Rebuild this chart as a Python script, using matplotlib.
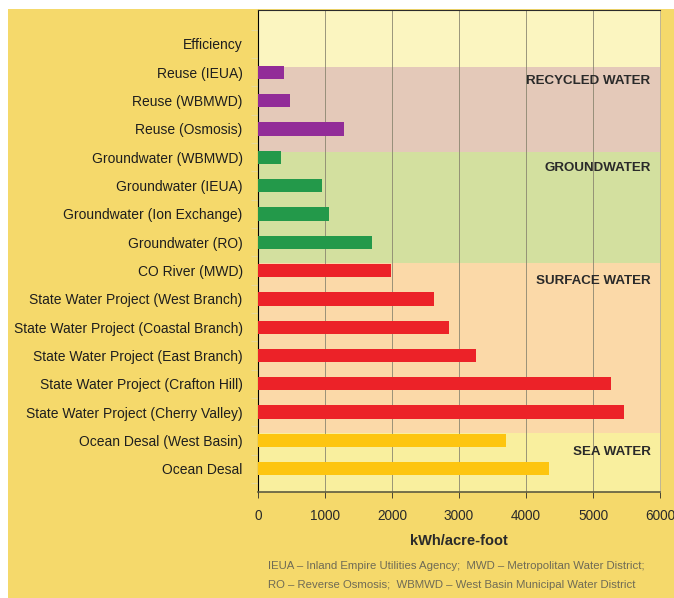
from matplotlib import pyplot as plt
from matplotlib.patches import Rectangle
import numpy as np

plt.rcParams['font.family'] = ['Liberation Sans', 'DejaVu Sans']

# data
labels = ["Efficiency", "Reuse (IEUA)", "Reuse (WBMWD)", "Reuse (Osmosis)",
          "Groundwater (WBMWD)", "Groundwater (IEUA)", "Groundwater (Ion Exchange)",
          "Groundwater (RO)", "CO River (MWD)", "State Water Project (West Branch)",
          "State Water Project (Coastal Branch)", "State Water Project (East Branch)",
          "State Water Project (Crafton Hill)", "State Water Project (Cherry Valley)",
          "Ocean Desal (West Basin)", "Ocean Desal"]
values = [0, 390, 480, 1280, 340, 955, 1060, 1700, 1985, 2630, 2850, 3250,
          5270, 5460, 3700, 4345]
groups = ["eff", "rec", "rec", "rec", "gw", "gw", "gw", "gw", "sw", "sw", "sw",
          "sw", "sw", "sw", "sea", "sea"]
band_names = ["RECYCLED WATER", "GROUNDWATER", "SURFACE WATER", "SEA WATER"]
x_ticks = [0, 1000, 2000, 3000, 4000, 5000, 6000]

bar_colors = {"eff": "#fbf5c0", "rec": "#922c98", "gw": "#23994a",
              "sw": "#ec2228", "sea": "#fdc510"}
band_colors = ["#fbf5c0", "#e4c9b9", "#d3e09f", "#fbd9a8", "#f9ef9e"]
band_edges = [-1.2, 0.8, 3.83, 7.75, 13.72, 15.82]
band_text_y = [1.3, 4.38, 8.37, 14.4]

fig = plt.figure(figsize=(6.74, 5.98), dpi=100, facecolor="white")
fig.patches.append(Rectangle((8 / 674, 0), 1, 1 - 9 / 598, transform=fig.transFigure,
                             facecolor="#f5d96b", edgecolor="none", zorder=-10))
ax = fig.add_axes([258 / 674, 1 - 492 / 598, 402 / 674, 482 / 598])

# background bands
for i in range(len(band_colors)):
    ax.axhspan(band_edges[i], band_edges[i + 1], color=band_colors[i], lw=0, zorder=0)

y = np.arange(len(labels))
ax.barh(y, values, height=0.47, color=[bar_colors[g] for g in groups], zorder=3)

for name, ty in zip(band_names, band_text_y):
    ax.text(5860, ty, name, ha="right", va="center", fontsize=9.6, fontweight="bold",
            color="#2a2a2a", zorder=4)

ax.set_xlim(0, 6000)
ax.set_ylim(15.82, -1.2)
ax.set_yticks(y)
ax.set_yticklabels(labels, fontsize=10, color="#1e1e1e")
ax.set_yticks(np.arange(-0.5, 15.6, 1), minor=True)
ax.tick_params(axis="y", which="major", length=0, pad=11)
ax.tick_params(axis="y", which="minor", length=5, color="#e8d99a", width=0.8)
ax.set_xticks(x_ticks)
ax.tick_params(axis="x", labelsize=9.8, colors="#2a2a2a", length=4, width=0.6, pad=8)
ax.grid(axis="x", color="#8a8670", lw=0.6, zorder=1)

ax.set_xlabel("kWh/acre-foot", fontsize=10.5, fontweight="bold", color="#2a2a2a", labelpad=8)

ax.spines["left"].set_color("black")
ax.spines["top"].set_color("#2a2a2a")
ax.spines["bottom"].set_color("#5e5c40")
ax.spines["bottom"].set_linewidth(1.2)
ax.spines["right"].set_color("#b8b09a")
ax.spines["right"].set_linewidth(0.6)

fig.text(268 / 674, 1 - 566 / 598,
         "IEUA \u2013 Inland Empire Utilities Agency;  MWD \u2013 Metropolitan Water District;",
         fontsize=8.2, color="#6f6b55", va="center")
fig.text(268 / 674, 1 - 585 / 598,
         "RO \u2013 Reverse Osmosis;  WBMWD \u2013 West Basin Municipal Water District",
         fontsize=8.2, color="#6f6b55", va="center")

fig.savefig("out.png", dpi=100, facecolor=fig.get_facecolor())
